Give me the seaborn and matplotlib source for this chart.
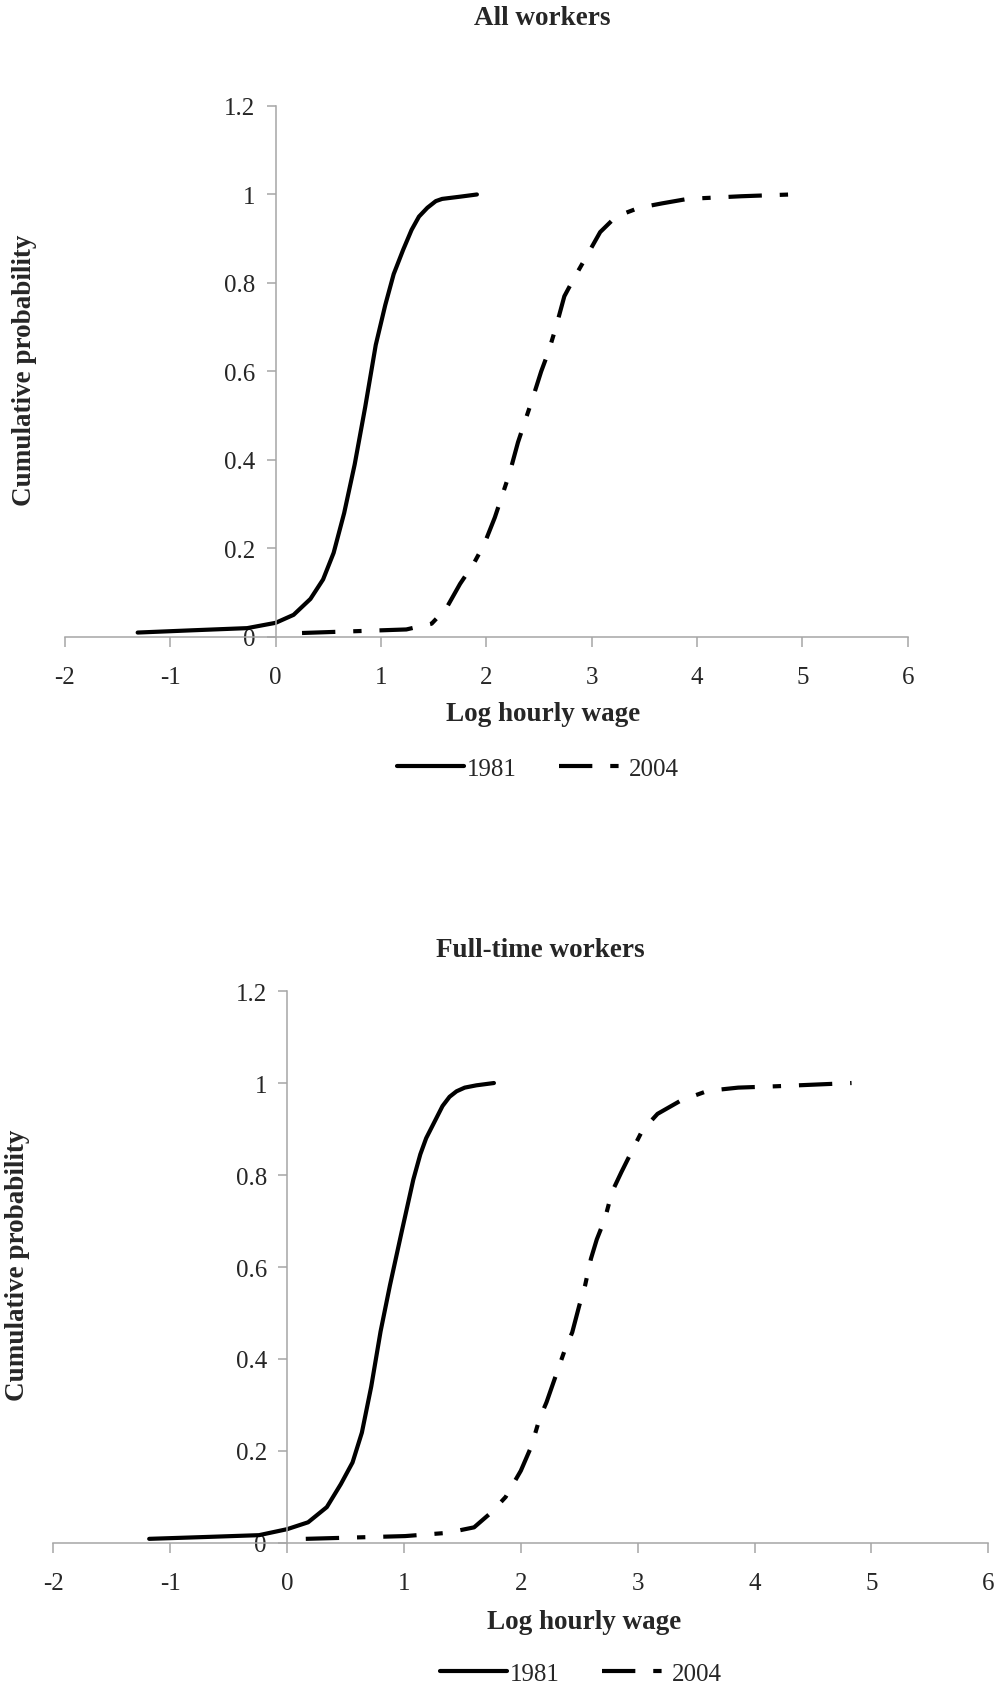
import matplotlib
matplotlib.use("Agg")
import matplotlib.pyplot as plt
import numpy as np
import pandas as pd
import seaborn as sns

# data (log hourly wage, cumulative probability)
all_x_1981 = [-1.31, -0.8, -0.27, 0.0, 0.17, 0.33, 0.45, 0.55, 0.65, 0.75, 0.85, 0.95,
              1.04, 1.12, 1.21, 1.29, 1.36, 1.44, 1.52, 1.58, 1.75, 1.91]
all_y_1981 = [0.01, 0.015, 0.02, 0.032, 0.05, 0.086, 0.13, 0.19, 0.28, 0.39, 0.52, 0.66,
              0.75, 0.82, 0.875, 0.92, 0.95, 0.97, 0.985, 0.99, 0.995, 1.0]
all_x_2004 = [0.25, 0.75, 1.24, 1.48, 1.62, 1.75, 1.88, 1.98, 2.08, 2.15, 2.22, 2.30, 2.37,
              2.44, 2.52, 2.59, 2.66, 2.74, 2.83, 2.95, 3.08, 3.23, 3.45, 3.67, 3.91, 4.42, 4.89]
all_y_2004 = [0.009, 0.013, 0.017, 0.03, 0.065, 0.12, 0.166, 0.21, 0.27, 0.32, 0.37, 0.44, 0.49,
              0.54, 0.60, 0.645, 0.70, 0.77, 0.81, 0.86, 0.915, 0.95, 0.97, 0.98, 0.99, 0.996, 1.0]

ft_x_1981 = [-1.18, -0.7, -0.24, 0.0, 0.18, 0.34, 0.46, 0.56, 0.64, 0.72, 0.80, 0.88, 0.98,
             1.08, 1.14, 1.19, 1.24, 1.28, 1.33, 1.39, 1.45, 1.52, 1.62, 1.77]
ft_y_1981 = [0.009, 0.013, 0.017, 0.03, 0.045, 0.078, 0.128, 0.175, 0.24, 0.34, 0.46, 0.56, 0.676,
             0.79, 0.845, 0.88, 0.905, 0.925, 0.95, 0.97, 0.982, 0.99, 0.995, 1.0]
ft_x_2004 = [0.16, 1.01, 1.37, 1.60, 1.75, 1.87, 2.0, 2.09, 2.16, 2.22, 2.29, 2.37, 2.44, 2.50,
             2.55, 2.60, 2.65, 2.72, 2.78, 2.86, 2.96, 3.04, 3.17, 3.37, 3.60, 3.86, 4.19, 4.83]
ft_y_2004 = [0.009, 0.015, 0.022, 0.034, 0.067, 0.10, 0.157, 0.21, 0.27, 0.306, 0.357, 0.415, 0.458,
             0.516, 0.56, 0.618, 0.66, 0.705, 0.763, 0.806, 0.857, 0.897, 0.933, 0.962, 0.983, 0.99,
             0.993, 1.0]

years = ["1981", "2004"]
x_ticks = [-2, -1, 0, 1, 2, 3, 4, 5, 6]
y_ticks = [0, 0.2, 0.4, 0.6, 0.8, 1.0, 1.2]

sns.set_style("white")
plt.rcParams["font.family"] = ["Liberation Serif", "DejaVu Serif"]
plt.rcParams["axes.unicode_minus"] = False

GREY = "#a6a6a6"
LW = 3.0
DASHDOT = (0, (8, 4.3, 2, 4.3))


def panel(fig, rect, x1, y1, x2, y2, titel, title_xy, ylab_xy, xlab_xy, leg_xy):
    ax = fig.add_axes(rect)
    sns.lineplot(x=x1, y=y1, ax=ax, color="black", linewidth=LW, sort=False,
                 label=years[0])
    sns.lineplot(x=x2, y=y2, ax=ax, color="black", linewidth=LW, sort=False,
                 label=years[1])
    ax.lines[0].set_solid_joinstyle("round")
    ax.lines[1].set_linestyle(DASHDOT)
    ax.set_xlim(-2, 6)
    ax.set_ylim(0, 1.2)
    ax.set_xticks(x_ticks)
    ax.set_xticklabels([str(v) for v in x_ticks])
    ax.set_yticks(y_ticks)
    ax.set_yticklabels(["%g" % v for v in y_ticks])
    for s in ["top", "right"]:
        ax.spines[s].set_visible(False)
    ax.spines["left"].set_position(("data", 0))
    for s in ["left", "bottom"]:
        ax.spines[s].set_color(GREY)
        ax.spines[s].set_linewidth(1.1)
    ax.tick_params(axis="x", direction="out", length=7, width=1.1, color=GREY,
                   labelsize=18, pad=14, bottom=True)
    ax.tick_params(axis="y", direction="out", length=6.5, width=1.1, color=GREY,
                   labelsize=18, pad=8, left=True)
    ax.set_title(titel, fontsize=19.5, fontweight="bold", x=title_xy[0], y=title_xy[1],
                 va="center", pad=0)
    ax.set_xlabel("Log hourly wage", fontsize=19.5, fontweight="bold", va="center")
    ax.xaxis.set_label_coords(xlab_xy[0], xlab_xy[1], transform=fig.transFigure)
    ax.set_ylabel("Cumulative probability", fontsize=19.5, fontweight="bold",
                  va="center", ha="center")
    ax.yaxis.set_label_coords(ylab_xy[0], ylab_xy[1], transform=fig.transFigure)
    ax.legend_.remove()
    h, l = ax.get_legend_handles_labels()
    fig.legend(h, l, loc="center", bbox_to_anchor=leg_xy, ncol=2, frameon=False,
               fontsize=18, handlelength=2.7, handletextpad=0.1, columnspacing=1.7)
    return ax


fig = plt.figure(figsize=(10.01, 16.90), dpi=100)

panel(fig, [0.0649, 0.6225, 0.842, 0.3142],
      all_x_1981, all_y_1981, all_x_2004, all_y_2004, "All workers",
      (0.566, 1.166), (0.024, 0.781), (0.5425, 0.5775), (0.5375, 0.5444))

panel(fig, [0.0533, 0.0864, 0.934, 0.3266],
      ft_x_1981, ft_y_1981, ft_x_2004, ft_y_2004, "Full-time workers",
      (0.521, 1.076), (0.017, 0.251), (0.5834, 0.0402), (0.5804, 0.0089))

fig.savefig("out.png", dpi=100, facecolor="white")
